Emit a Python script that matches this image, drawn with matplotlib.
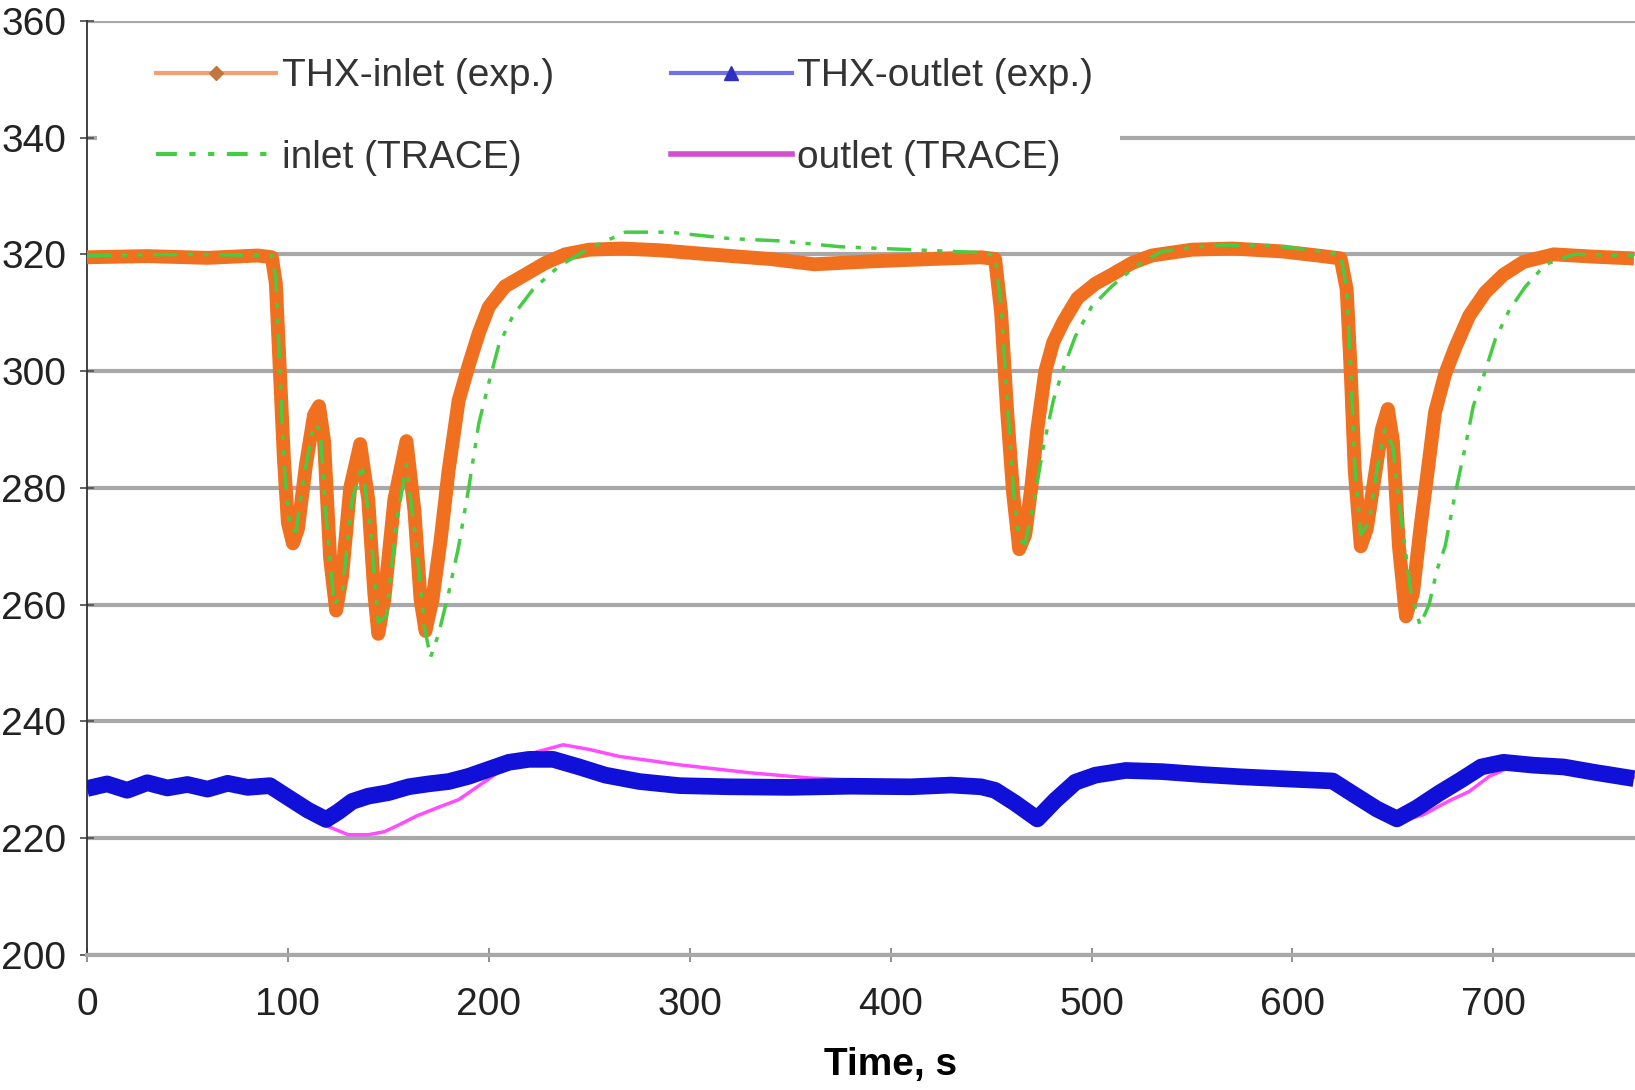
import matplotlib
matplotlib.use("Agg")
import matplotlib.pyplot as plt
from matplotlib.lines import Line2D
from matplotlib.patches import Rectangle

# THX inlet, experiment (s, K)
t_inlet_exp = [0, 30, 60, 85, 92, 94, 96, 98, 100, 102.5, 105, 109, 113, 115.5, 118, 121, 124, 127, 131, 136,
               140, 143, 145, 148, 153, 159, 163, 166, 168.5, 172, 176, 180, 185, 190, 195, 200, 208, 218, 228, 238,
               250, 266, 285, 310, 340, 362, 390, 420, 445, 452, 455, 458, 461, 464, 467, 470, 473, 477, 481, 486,
               493, 502, 510, 520, 530, 550, 570, 595, 615, 624, 627, 629, 631, 634, 637, 641, 644.5, 647.5, 650, 653,
               656.5, 660, 664, 667, 671, 676, 681, 688, 696, 705, 715, 730, 750, 770]
T_inlet_exp = [319.5, 319.7, 319.4, 319.8, 319.5, 315, 300, 285, 274, 270.5, 273, 284, 292.5, 294, 288, 268, 259, 265, 280, 287.5,
               278, 262, 255, 261, 278, 288, 276, 261, 255.5, 261, 271, 283, 295, 301, 306.5, 311, 314.5, 316.5, 318.5, 320,
               320.8, 321, 320.7, 320, 319.2, 318.3, 318.8, 319.2, 319.5, 319.2, 310, 293, 279, 269.5, 272, 280, 290, 300, 305, 308.5,
               312.5, 315, 316.5, 318.5, 319.8, 320.8, 321, 320.5, 319.7, 319.3, 314, 300, 283, 270, 273, 282, 290, 293.5, 288, 270,
               258, 262, 274, 282, 293, 299.5, 304, 309.5, 313.5, 316.5, 318.7, 320, 319.6, 319.3]

# inlet, TRACE
t_inlet_trace = [0, 50, 92, 94, 96, 98, 101, 104, 108, 113, 116, 119, 123, 127, 132, 137, 141, 145, 149, 154,
                 159, 164, 168, 171, 175, 180, 185, 190, 195, 200, 205, 212, 222, 235, 250, 268, 290, 320, 345, 375,
                 410, 445, 452, 455, 458, 461, 464, 467, 471, 476, 481, 486, 492, 500, 510, 522, 535, 560, 590, 615,
                 624, 627, 629, 631, 634, 638, 642, 646, 650, 654, 659, 663.5, 668, 672, 676, 681, 686, 690, 695, 701,
                 708, 716, 726, 740, 770]
T_inlet_trace = [319.8, 320, 319.8, 316, 300, 284, 273, 272.5, 282, 291, 290, 275, 260, 262, 278, 284, 273, 257, 258, 274,
                 284, 270, 256, 251, 255, 262, 270, 280, 291, 298, 304.5, 309.5, 314, 318, 321, 323.8, 323.8, 322.7, 322.3, 321.3,
                 320.8, 320.3, 319.8, 311, 295, 280, 271, 270.5, 277, 287, 295, 300.5, 306, 311, 314.5, 318, 320.5, 321.6, 321.5, 320.5,
                 320, 314, 300, 284, 272, 274, 283, 290, 287, 275, 262, 256.5, 260, 266, 270, 279, 287, 294, 299, 305.5,
                 310.5, 314.5, 318.3, 320, 319.8]

# THX outlet, experiment
t_outlet_exp = [0, 10, 20, 30, 40, 50, 60, 70, 80, 91, 100, 110, 119, 125, 132, 140, 150, 160, 170, 180,
                190, 200, 210, 220, 232, 245, 258, 275, 295, 320, 350, 380, 410, 430, 445, 452, 462, 473, 482, 492,
                502, 517, 535, 555, 575, 600, 620, 630, 642, 652, 662, 673, 684, 694, 705, 720, 735, 750, 770]
T_outlet_exp = [228.5, 229.3, 228.2, 229.5, 228.6, 229.2, 228.4, 229.4, 228.7, 229.0, 227, 224.8, 223.2, 224.5, 226.3, 227.2, 227.8, 228.8, 229.3, 229.7,
                230.6, 231.8, 233, 233.5, 233.5, 232.2, 230.8, 229.7, 229, 228.8, 228.7, 228.9, 228.8, 229.1, 228.8, 228.2, 226, 223.3, 226.5, 229.6,
                230.8, 231.6, 231.4, 230.9, 230.5, 230.1, 229.8, 227.6, 225, 223.3, 225.2, 227.7, 230, 232.2, 233, 232.5, 232.2, 231.3, 230.2]

# outlet, TRACE
t_outlet_trace = [0, 50, 91, 100, 110, 120, 130, 140, 148, 156, 164, 175, 185, 193, 201, 210, 222, 237, 250, 265,
                  280, 294, 312, 330, 360, 400, 445, 455, 465, 475, 485, 495, 510, 540, 580, 620, 632, 645, 655, 665,
                  678, 688, 698, 710, 730, 770]
T_outlet_trace = [228.9, 229, 229, 227, 224.5, 222, 220.6, 220.6, 221.1, 222.4, 223.8, 225.3, 226.6, 228.5, 230.4, 232.5, 234.6, 236, 235.2, 234,
                  233.3, 232.6, 231.9, 231.2, 230.3, 229.7, 229.5, 228, 225, 223.5, 226.5, 229.8, 231.2, 231.3, 230.6, 229.9, 227.2, 224.3, 223, 224,
                  226.4, 228, 230.6, 232.4, 232.3, 230.5]

labels = ["THX-inlet (exp.)", "inlet (TRACE)", "THX-outlet (exp.)", "outlet (TRACE)"]

c_orange = "#F07020"
c_green = "#44CC44"
c_blue = "#1010D8"
c_magenta = "#FF4CFF"

plt.rcParams["font.family"] = ["Liberation Sans", "DejaVu Sans"]

fig = plt.figure(figsize=(16.35, 10.9), dpi=100)
ax = fig.add_axes([87 / 1635, 0.1239, 1 - 87 / 1635, 0.857])

ax.plot(t_outlet_trace, T_outlet_trace, color=c_magenta, lw=2.5, zorder=2)
ax.plot(t_outlet_exp, T_outlet_exp, color=c_blue, lw=12, solid_joinstyle="round", solid_capstyle="butt", zorder=3)
ax.plot(t_inlet_exp, T_inlet_exp, color=c_orange, lw=10, solid_joinstyle="round", solid_capstyle="butt", zorder=3)
ax.plot(t_inlet_trace, T_inlet_trace, color=c_green, lw=2.5, dashes=(7, 3, 1.5, 3, 1.5, 3), zorder=4)

ax.set_xlim(0, 770.5)
ax.set_ylim(200, 360)
ax.set_xticks(range(0, 800, 100))
ax.set_yticks(range(200, 380, 20))

ax.set_axisbelow(True)
ax.yaxis.grid(True, color="#A8A8A8", lw=3)
for s in ["top", "right"]:
    ax.spines[s].set_visible(False)
ax.spines["bottom"].set_color("#A8A8A8")
ax.spines["bottom"].set_linewidth(3)
ax.spines["left"].set_color("#333333")
ax.spines["left"].set_linewidth(1.3)

ax.tick_params(axis="y", direction="inout", length=10, width=1.3, color="#555555",
               labelsize=28, labelcolor="#222222", pad=10)
ax.tick_params(axis="x", direction="inout", length=10, width=1.3, color="#888888",
               labelsize=28, labelcolor="#222222", pad=18)
ax.set_xlabel("Time, s", fontsize=28, fontweight="bold", x=0.519, labelpad=17)

# white area behind the legend, hides the 340 grid line there
ax.add_patch(Rectangle((0.0065, 0.78), 0.661, 0.19, transform=ax.transAxes,
                       facecolor="white", edgecolor="none", zorder=1))

handles = [
    Line2D([], [], color="#F4A070", lw=3, marker="D", markersize=7, markerfacecolor="#C07840", markeredgecolor="#C07840"),
    Line2D([], [], color=c_green, lw=3, dashes=(5, 3, 1.5, 3, 1.5, 3)),
    Line2D([], [], color="#7070F0", lw=3, marker="^", markersize=10, markerfacecolor="#3030C0", markeredgecolor="#3030C0"),
    Line2D([], [], color="#D050D0", lw=4),
]
leg = ax.legend(handles, labels, ncol=2, loc="upper left", bbox_to_anchor=(0.0445, 0.960),
                frameon=False, fontsize=28, borderpad=0, borderaxespad=0,
                handlelength=3.1, handletextpad=0.15, columnspacing=3.0, labelspacing=1.18)
for txt in leg.get_texts():
    txt.set_color("#333333")

fig.savefig("out.png", dpi=100)
